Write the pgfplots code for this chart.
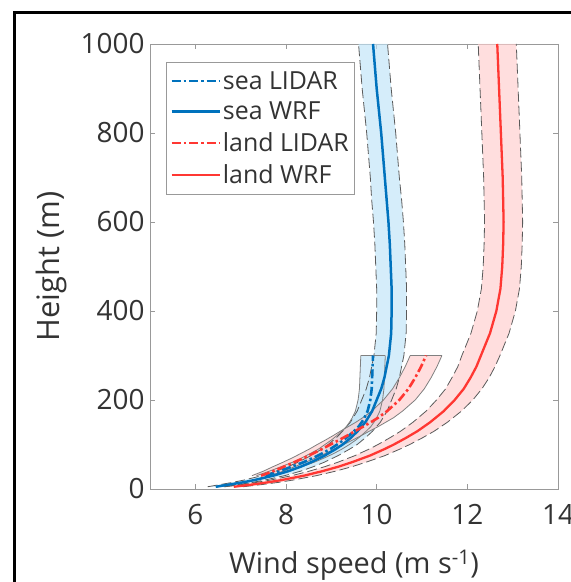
\documentclass[border=0pt]{standalone}
\usepackage{pgfplots}
\pgfplotsset{compat=1.18}
\usepackage{pgfplotstable}
\usepgfplotslibrary{fillbetween}
\usepackage{fontspec}
\setmainfont{Open Sans}

\definecolor{seablue}{RGB}{0,114,189}
\definecolor{landred}{RGB}{255,55,50}
\definecolor{seafill}{RGB}{190,228,248}
\definecolor{landfill}{RGB}{255,205,205}
\definecolor{edgegray}{RGB}{90,90,90}

% h = height (m), u = mean wind speed, d = half width of band
\pgfplotstableread{
h u d
5 6.45 0.18
10 6.75 0.20
15 7.05 0.22
20 7.30 0.23
30 7.72 0.25
40 8.05 0.27
50 8.32 0.28
60 8.55 0.29
75 8.85 0.30
90 9.10 0.31
100 9.25 0.32
115 9.43 0.32
130 9.58 0.33
150 9.75 0.33
175 9.90 0.33
200 10.00 0.33
225 10.10 0.33
250 10.17 0.33
300 10.27 0.33
350 10.32 0.33
400 10.33 0.33
450 10.33 0.33
500 10.31 0.33
550 10.29 0.33
600 10.26 0.33
650 10.22 0.33
700 10.18 0.32
750 10.14 0.32
800 10.10 0.32
850 10.05 0.32
900 10.00 0.32
950 9.96 0.32
1000 9.92 0.32
}\seawrf

\pgfplotstableread{
h u d
30 7.55 0.20
40 7.85 0.22
50 8.12 0.23
60 8.38 0.24
70 8.60 0.25
80 8.80 0.26
90 8.98 0.26
100 9.13 0.27
110 9.27 0.27
120 9.39 0.27
130 9.50 0.27
140 9.60 0.27
150 9.67 0.27
160 9.73 0.27
175 9.80 0.27
200 9.86 0.27
225 9.89 0.27
250 9.90 0.27
275 9.91 0.27
300 9.92 0.27
}\sealidar

\pgfplotstableread{
h u d
30 7.45 0.20
40 7.72 0.22
50 7.95 0.24
60 8.18 0.25
70 8.40 0.26
80 8.60 0.27
90 8.80 0.28
100 8.98 0.29
110 9.17 0.30
120 9.35 0.31
130 9.52 0.32
140 9.70 0.33
150 9.87 0.33
160 10.03 0.34
175 10.23 0.34
200 10.50 0.35
225 10.70 0.35
250 10.85 0.35
275 10.98 0.35
300 11.09 0.35
}\landlidar

\pgfplotstableread{
h u d
5 6.85 0.20
10 7.25 0.22
15 7.60 0.24
20 7.90 0.25
30 8.40 0.27
40 8.80 0.29
50 9.15 0.30
60 9.45 0.31
75 9.85 0.33
90 10.18 0.34
100 10.38 0.35
115 10.65 0.36
130 10.90 0.37
150 11.18 0.38
175 11.48 0.39
200 11.72 0.40
225 11.92 0.40
250 12.07 0.41
275 12.20 0.41
300 12.30 0.42
350 12.50 0.42
400 12.64 0.42
450 12.73 0.42
500 12.77 0.42
550 12.79 0.42
600 12.80 0.42
650 12.79 0.42
700 12.78 0.42
800 12.74 0.42
900 12.70 0.42
1000 12.66 0.42
}\landwrf

\begin{document}
\begin{tikzpicture}
\begin{axis}[
  at={(150bp,93bp)}, anchor=south west,
  scale only axis, width=408bp, height=445bp,
  xmin=5, xmax=14, ymin=0, ymax=1000,
  xtick={6,8,10,12,14}, ytick={0,200,400,600,800,1000},
  tick align=inside, major tick length=5bp,
  axis line style={black!40, line width=0.8bp},
  tick style={black!40, line width=0.8bp},
  /pgf/number format/assume math mode=true,
  /pgf/number format/1000 sep={},
  ticklabel style={font=\fontsize{28}{32}\selectfont, text=black!80},
  xticklabel style={yshift=-12bp},
  yticklabel style={xshift=-2bp},
  xlabel={Wind speed (m s\textsuperscript{-1})},
  ylabel={Height (m)},
  xlabel style={font=\fontsize{29}{34}\selectfont, text=black!80, at={(axis description cs:0.5,-0.172)}, anchor=center},
  ylabel style={font=\fontsize{31}{36}\selectfont, text=black!80, at={(axis description cs:-0.242,0.5)}, anchor=center},
  legend style={at={(axis description cs:0.039,0.96)}, anchor=north west,
    draw=black!40, line width=0.8bp, font=\fontsize{25}{30}\selectfont, text=black!80,
    inner xsep=4bp, inner ysep=7bp, row sep=7.5bp,
    cells={anchor=west}},
  legend image code/.code={\draw[#1] (0bp,0bp) -- (48bp,0bp);},
]
% ---- bands
\addplot[forget plot, edgegray, line width=0.8bp, dash pattern=on 10bp off 4bp, name path=swA] table[x expr=\thisrow{u}-\thisrow{d}, y=h] {\seawrf};
\addplot[forget plot, edgegray, line width=0.8bp, dash pattern=on 10bp off 4bp, name path=swB] table[x expr=\thisrow{u}+\thisrow{d}, y=h] {\seawrf};
\addplot[forget plot, fill=seafill, fill opacity=0.65] fill between[of=swA and swB];

\addplot[forget plot, edgegray, line width=0.8bp, dash pattern=on 10bp off 4bp, name path=lwA] table[x expr=\thisrow{u}-\thisrow{d}, y=h] {\landwrf};
\addplot[forget plot, edgegray, line width=0.8bp, dash pattern=on 10bp off 4bp, name path=lwB] table[x expr=\thisrow{u}+\thisrow{d}, y=h] {\landwrf};
\addplot[forget plot, fill=landfill, fill opacity=0.65] fill between[of=lwA and lwB];

\addplot[forget plot, black!50, line width=0.8bp, name path=slA] table[x expr=\thisrow{u}-\thisrow{d}, y=h] {\sealidar};
\addplot[forget plot, black!50, line width=0.8bp, name path=slB] table[x expr=\thisrow{u}+\thisrow{d}, y=h] {\sealidar};
\addplot[forget plot, fill=seafill, fill opacity=0.65] fill between[of=slA and slB];
\addplot[forget plot, black!50, line width=0.8bp] coordinates {(9.65,300) (10.19,300)};

\addplot[forget plot, black!50, line width=0.8bp, name path=llA] table[x expr=\thisrow{u}-\thisrow{d}, y=h] {\landlidar};
\addplot[forget plot, black!50, line width=0.8bp, name path=llB] table[x expr=\thisrow{u}+\thisrow{d}, y=h] {\landlidar};
\addplot[forget plot, fill=landfill, fill opacity=0.65] fill between[of=llA and llB];
\addplot[forget plot, black!50, line width=0.8bp] coordinates {(10.74,300) (11.44,300)};

% ---- lines
\addplot[seablue, line width=2.6bp, dash pattern=on 9bp off 3bp on 2.5bp off 3bp] table[x=u, y=h] {\sealidar};
\addlegendentry{sea LIDAR}
\addplot[seablue, line width=2.5bp] table[x=u, y=h] {\seawrf};
\addlegendentry{sea WRF}
\addplot[landred, line width=2.6bp, dash pattern=on 9bp off 3bp on 2.5bp off 3bp] table[x=u, y=h] {\landlidar};
\addlegendentry{land LIDAR}
\addplot[landred, line width=2.3bp] table[x=u, y=h] {\landwrf};
\addlegendentry{land WRF}
\end{axis}
\draw[line width=3.5bp] (14.5bp,-5bp) -- (14.5bp,569.5bp) -- (590bp,569.5bp);
\pgfresetboundingbox
\path (0bp,0bp) rectangle (571bp,582bp);
\end{tikzpicture}
\end{document}
